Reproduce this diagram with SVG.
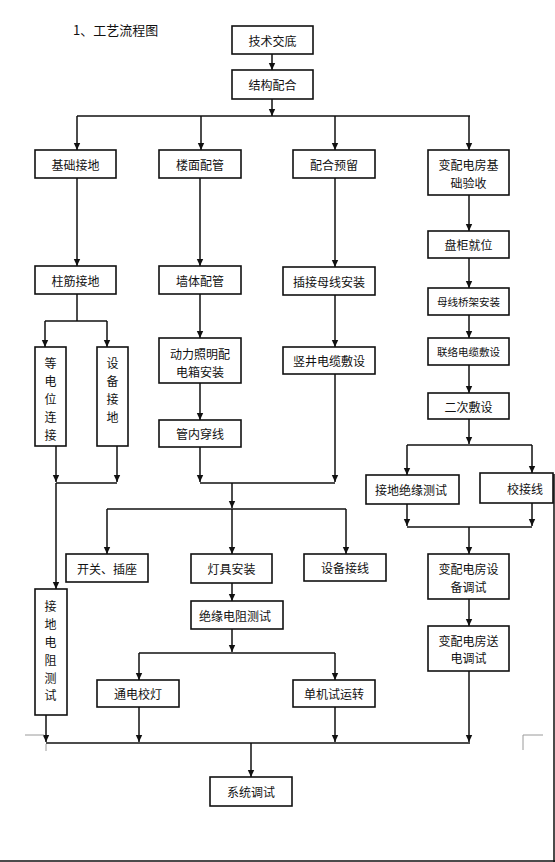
<svg xmlns="http://www.w3.org/2000/svg" width="555" height="862" viewBox="0 0 555 862">
<style>
.b{fill:#fff;stroke:#111;stroke-width:1.6}
.t{font-family:"Noto Sans CJK SC","Noto Sans",sans-serif;font-size:12px;text-anchor:middle;dominant-baseline:central;fill:#111}
.s{font-size:10.5px}
.c{fill:none;stroke:#111;stroke-width:1.5}
.a{fill:none;stroke:#111;stroke-width:1.5;marker-end:url(#ah)}
.g{fill:none;stroke:#9a9a9a;stroke-width:1}
</style>
<defs>
<marker id="ah" markerWidth="8" markerHeight="8" refX="7" refY="4" orient="auto" markerUnits="userSpaceOnUse">
<path d="M0,0.8 L7,4 L0,7.2 Z" fill="#111"/>
</marker>
</defs>
<rect width="555" height="862" fill="#fff"/>
<text x="73" y="29" class="t" style="text-anchor:start;font-size:13px">1、工艺流程图</text>

<g id="connectors">
<path class="a" d="M272,54 V70"/>
<path class="a" d="M272,99 V116"/>
<path class="c" d="M77,116 H470"/>
<path class="a" d="M77,116 V150"/>
<path class="a" d="M201,116 V150"/>
<path class="a" d="M335,116 V150"/>
<path class="a" d="M469,116 V150"/>
<path class="a" d="M77,178 V266"/>
<path class="a" d="M200,178 V266"/>
<path class="a" d="M335,178 V267"/>
<path class="a" d="M469,195 V231"/>
<path class="a" d="M469,258 V288"/>
<path class="a" d="M469,315 V338"/>
<path class="a" d="M469,365 V393"/>
<path class="c" d="M77,294 V321"/>
<path class="c" d="M45,321 H107"/>
<path class="a" d="M45,321 V347"/>
<path class="a" d="M107,321 V347"/>
<path class="a" d="M56,446 V482"/>
<path class="a" d="M117,446 V482"/>
<path class="c" d="M56,483 H117"/>
<path class="a" d="M56,483 V589"/>
<path class="a" d="M46,715 V742"/>
<path class="a" d="M200,294 V338"/>
<path class="a" d="M200,383 V420"/>
<path class="a" d="M200,447 V482"/>
<path class="a" d="M335,295 V347"/>
<path class="a" d="M335,374 V482"/>
<path class="c" d="M200,483 H335"/>
<path class="a" d="M232,483 V508"/>
<path class="c" d="M107,509 H346"/>
<path class="a" d="M107,509 V554"/>
<path class="a" d="M232,509 V554"/>
<path class="a" d="M346,509 V554"/>
<path class="a" d="M232,583 V601"/>
<path class="a" d="M232,629 V652"/>
<path class="c" d="M139,653 H335"/>
<path class="a" d="M139,653 V680"/>
<path class="a" d="M335,653 V680"/>
<path class="a" d="M139,707 V742"/>
<path class="a" d="M335,707 V742"/>
<path class="a" d="M469,419 V444"/>
<path class="c" d="M407,445 H532"/>
<path class="a" d="M407,445 V475"/>
<path class="a" d="M532,445 V473"/>
<path class="a" d="M407,504 V526"/>
<path class="a" d="M532,503 V526"/>
<path class="c" d="M407,527 H532"/>
<path class="a" d="M469,527 V554"/>
<path class="a" d="M469,599 V626"/>
<path class="a" d="M469,671 V742"/>
<path class="c" d="M46,743 H470"/>
<path class="a" d="M251,743 V777"/>
</g>

<g id="n1"><rect class="b" x="232" y="26" width="81" height="28"/><text class="t" x="272.5" y="40">技术交底</text></g>
<g id="n2"><rect class="b" x="232" y="70" width="81" height="29"/><text class="t" x="272.5" y="84.5">结构配合</text></g>
<g id="n3"><rect class="b" x="35" y="150" width="81" height="28"/><text class="t" x="75.5" y="164">基础接地</text></g>
<g id="n4"><rect class="b" x="159" y="150" width="82" height="28"/><text class="t" x="200" y="164">楼面配管</text></g>
<g id="n5"><rect class="b" x="293" y="150" width="82" height="28"/><text class="t" x="334" y="164">配合预留</text></g>
<g id="n6"><rect class="b" x="428" y="150" width="81" height="45"/><text class="t" x="468.5" y="164">变配电房基</text><text class="t" x="468.5" y="182">础验收</text></g>
<g id="n7"><rect class="b" x="35" y="266" width="81" height="28"/><text class="t" x="75.5" y="280">柱筋接地</text></g>
<g id="n8"><rect class="b" x="159" y="266" width="82" height="28"/><text class="t" x="200" y="280">墙体配管</text></g>
<g id="n9"><rect class="b" x="283" y="267" width="92" height="28"/><text class="t" x="329" y="281">插接母线安装</text></g>
<g id="n10"><rect class="b" x="428" y="231" width="81" height="27"/><text class="t" x="468.5" y="244.5">盘柜就位</text></g>
<g id="n11"><rect class="b" x="428" y="288" width="81" height="27"/><text class="t s" x="468.5" y="301.5">母线桥架安装</text></g>
<g id="n12"><rect class="b" x="428" y="338" width="81" height="27"/><text class="t s" x="468.5" y="351.5">联络电缆敷设</text></g>
<g id="n13"><rect class="b" x="428" y="393" width="81" height="26"/><text class="t" x="468.5" y="406">二次敷设</text></g>
<g id="n14"><rect class="b" x="35" y="347" width="31" height="99"/>
<text class="t" x="50.5" y="362">等</text><text class="t" x="50.5" y="380">电</text><text class="t" x="50.5" y="398">位</text><text class="t" x="50.5" y="416">连</text><text class="t" x="50.5" y="434">接</text></g>
<g id="n15"><rect class="b" x="97" y="347" width="31" height="99"/>
<text class="t" x="112.5" y="362">设</text><text class="t" x="112.5" y="380">备</text><text class="t" x="112.5" y="398">接</text><text class="t" x="112.5" y="416">地</text></g>
<g id="n16"><rect class="b" x="159" y="338" width="82" height="45"/><text class="t" x="200" y="353">动力照明配</text><text class="t" x="200" y="371">电箱安装</text></g>
<g id="n17"><rect class="b" x="159" y="420" width="82" height="27"/><text class="t" x="200" y="433.5">管内穿线</text></g>
<g id="n18"><rect class="b" x="283" y="347" width="92" height="27"/><text class="t" x="329" y="360.5">竖井电缆敷设</text></g>
<g id="n19"><rect class="b" x="366" y="475" width="93" height="29"/><text class="t" x="411" y="489.5">接地绝缘测试</text></g>
<g id="n20"><rect class="b" x="480" y="473" width="73" height="30"/><text class="t" x="525" y="488">校接线</text></g>
<g id="n21"><rect class="b" x="35" y="589" width="32" height="126"/>
<text class="t" x="50.5" y="605">接</text><text class="t" x="50.5" y="623">地</text><text class="t" x="50.5" y="641">电</text><text class="t" x="50.5" y="659">阻</text><text class="t" x="50.5" y="677">测</text><text class="t" x="50.5" y="694">试</text></g>
<g id="n22"><rect class="b" x="66" y="554" width="82" height="28"/><text class="t" x="107" y="568">开关、插座</text></g>
<g id="n23"><rect class="b" x="191" y="554" width="81" height="29"/><text class="t" x="231.5" y="568.5">灯具安装</text></g>
<g id="n24"><rect class="b" x="304" y="554" width="82" height="27"/><text class="t" x="345" y="567.5">设备接线</text></g>
<g id="n25"><rect class="b" x="191" y="601" width="92" height="28"/><text class="t" x="235" y="615">绝缘电阻测试</text></g>
<g id="n26"><rect class="b" x="97" y="680" width="82" height="27"/><text class="t" x="138" y="693.5">通电校灯</text></g>
<g id="n27"><rect class="b" x="293" y="680" width="82" height="27"/><text class="t" x="334" y="693.5">单机试运转</text></g>
<g id="n28"><rect class="b" x="428" y="554" width="81" height="45"/><text class="t" x="468.5" y="568">变配电房设</text><text class="t" x="468.5" y="586">备调试</text></g>
<g id="n29"><rect class="b" x="428" y="626" width="81" height="45"/><text class="t" x="468.5" y="640">变配电房送</text><text class="t" x="468.5" y="657">电调试</text></g>
<g id="n30"><rect class="b" x="210" y="777" width="82" height="29"/><text class="t" x="251" y="791.5">系统调试</text></g>

<path class="g" d="M25,735 H44 M46,744 V751 M523,750 V735 H543"/>
<path d="M554,474 V862 M0,861 H555" fill="none" stroke="#111" stroke-width="1.5"/>
</svg>
